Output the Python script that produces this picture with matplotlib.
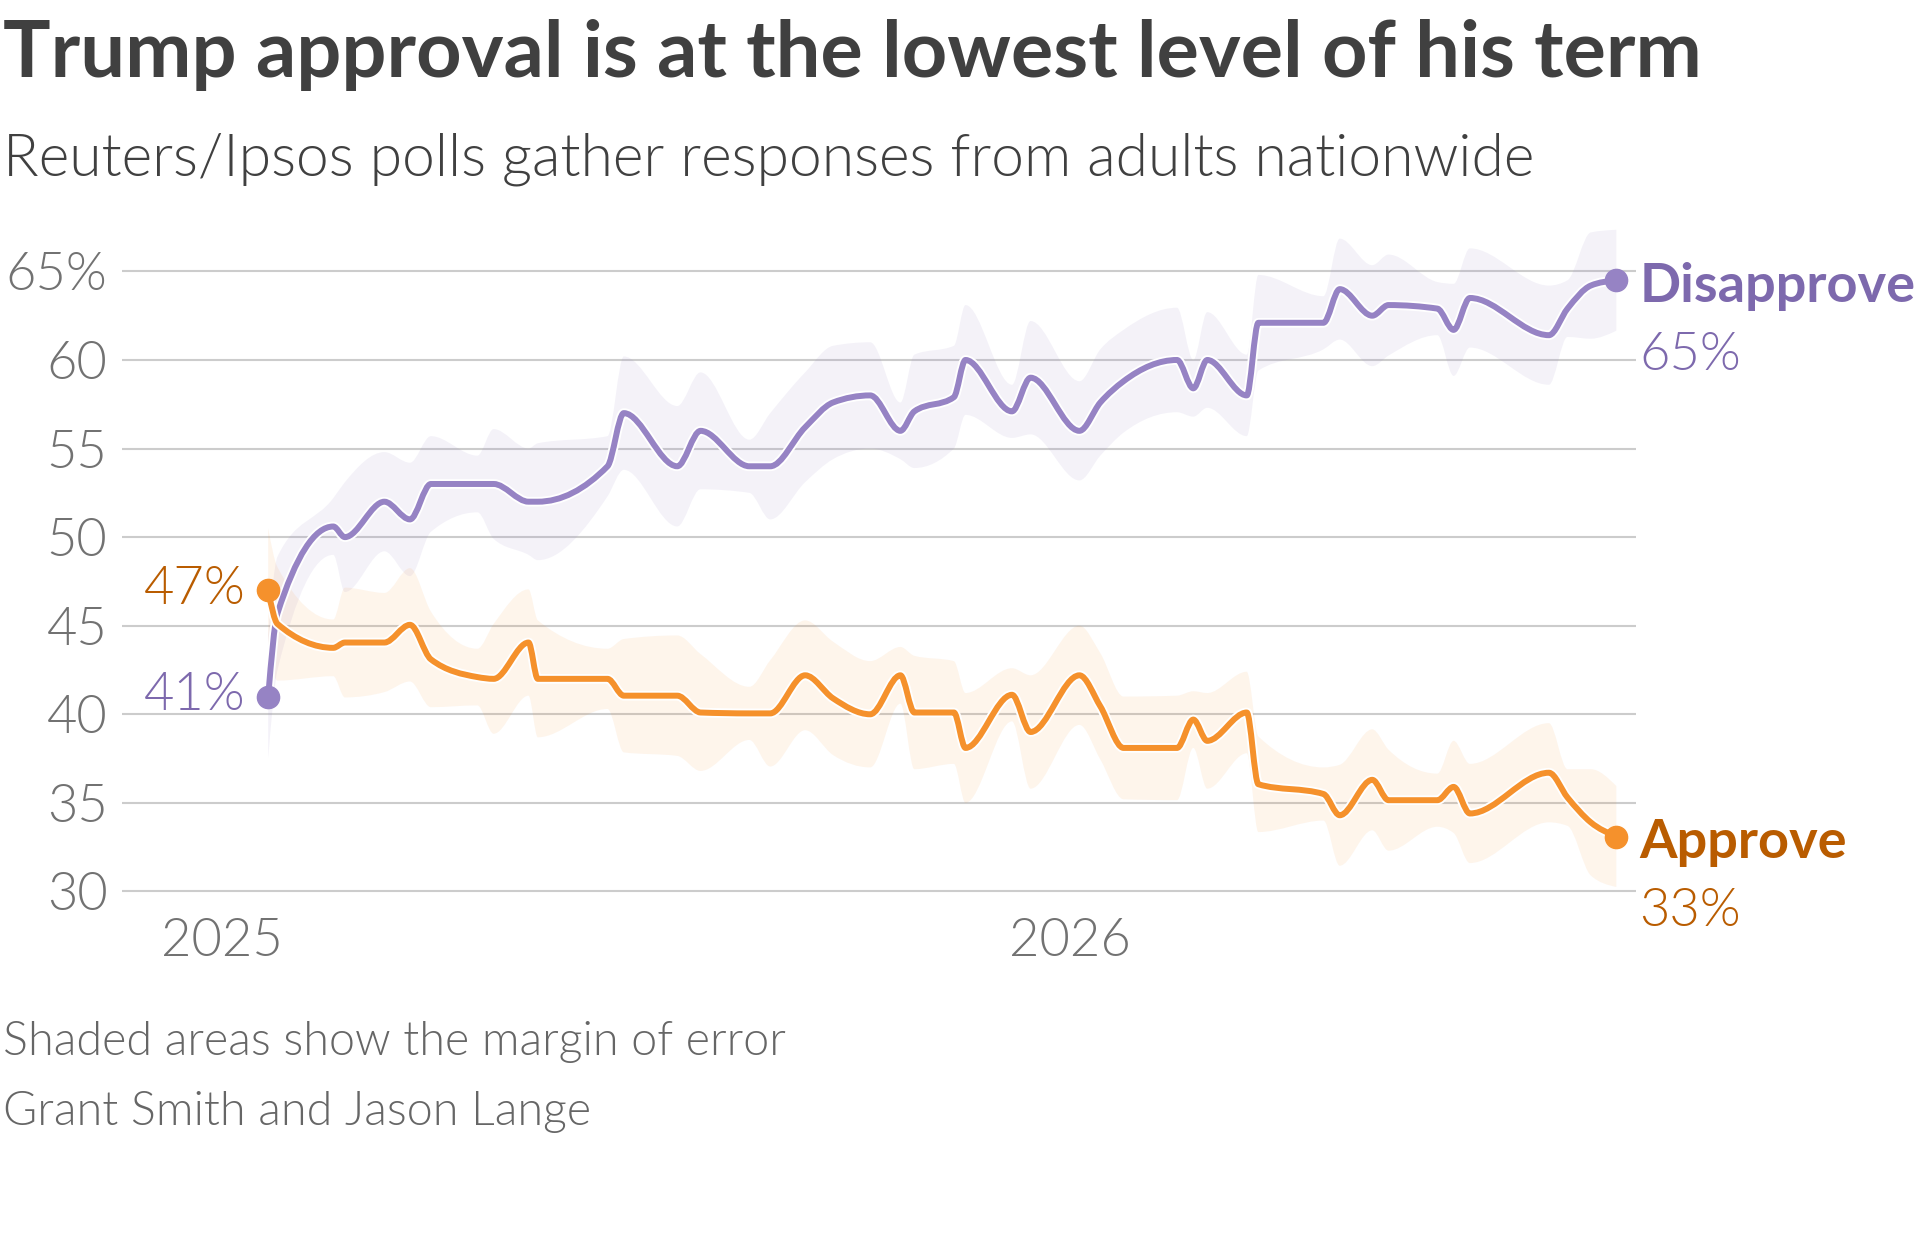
import numpy as np
import pandas as pd
import matplotlib
matplotlib.use("Agg")
import matplotlib.pyplot as plt
import matplotlib.dates as mdates
import matplotlib.patheffects as pe
from matplotlib.path import Path
from matplotlib.patches import PathPatch
from matplotlib import font_manager

# ---------------- data ----------------
dates = ["2025-01-21", "2025-01-25", "2025-02-18", "2025-02-23", "2025-03-12", "2025-03-23",
         "2025-04-01", "2025-04-21", "2025-04-28", "2025-05-13", "2025-05-17", "2025-06-16",
         "2025-06-23", "2025-07-16", "2025-07-26", "2025-08-16", "2025-08-25", "2025-09-09",
         "2025-09-21", "2025-10-07", "2025-10-20", "2025-10-26", "2025-11-12", "2025-11-17",
         "2025-12-07", "2025-12-15", "2026-01-05", "2026-01-14", "2026-01-24", "2026-02-16",
         "2026-02-23", "2026-03-01", "2026-03-18", "2026-03-23", "2026-04-20", "2026-04-27",
         "2026-05-11", "2026-05-18", "2026-06-08", "2026-06-15", "2026-06-22", "2026-07-26",
         "2026-08-03", "2026-08-13", "2026-08-24"]

disapprove = [41.0, 45.7, 50.6, 50.0, 52.0, 51.0, 53.0, 53.0, 53.0, 52.0, 52.0, 54.0,
              57.0, 54.0, 56.0, 54.0, 54.0, 56.2, 57.6, 58.0, 56.0, 57.1, 57.9, 60.0,
              57.1, 59.0, 56.0, 57.6, 58.8, 60.0, 58.4, 60.0, 58.0, 62.1, 62.1, 64.0,
              62.5, 63.1, 62.9, 61.7, 63.5, 61.4, 62.9, 64.2, 64.5]

approve = [47.0, 45.1, 43.75, 44.05, 44.05, 45.05, 43.1, 42.1, 42.0, 44.05, 42.0, 42.0,
           41.05, 41.05, 40.1, 40.05, 40.05, 42.2, 40.9, 40.0, 42.2, 40.1, 40.1, 38.1,
           41.1, 39.0, 42.2, 40.45, 38.1, 38.1, 39.7, 38.5, 40.1, 36.05, 35.5, 34.3,
           36.3, 35.15, 35.15, 35.9, 34.4, 36.7, 35.3, 33.9, 33.1]

margin = [3.5, 3.2, 1.6, 3.1, 2.8, 3.2, 2.7, 1.6, 3.1, 3.0, 3.3, 1.7,
          3.2, 3.4, 3.3, 1.5, 3.0, 3.1, 3.2, 3.0, 1.6, 3.2, 2.9, 3.1,
          1.5, 3.2, 2.8, 3.0, 2.9, 2.95, 1.6, 2.7, 2.3, 2.7, 1.5, 2.85,
          2.85, 2.85, 1.5, 2.6, 2.8, 2.8, 1.6, 3.0, 2.85]

series_names = ["Disapprove", "Approve"]
start_labels = ["41%", "47%"]
end_labels = ["65%", "33%"]

y_ticks = [30, 35, 40, 45, 50, 55, 60, 65]
y_tick_labels = ["30", "35", "40", "45", "50", "55", "60", "65%"]
x_ticks = ["2025-01-01", "2026-01-01"]
x_tick_labels = ["2025", "2026"]

title = "Trump approval is at the lowest level of his term"
subtitle = "Reuters/Ipsos polls gather responses from adults nationwide"
footer1 = "Shaded areas show the margin of error"
footer2 = "Grant Smith and Jason Lange"

# ---------------- style ----------------
PURPLE = "#9683c4"
PURPLE_TXT = "#7d69ad"
ORANGE = "#f5912c"
ORANGE_TXT = "#b95c00"
DARK = "#404040"
GRAY = "#727272"

names = {f.name for f in font_manager.fontManager.ttflist}
FONT = "Lato" if "Lato" in names else ("Roboto" if "Roboto" in names else "DejaVu Sans")
LIGHT = 300

W, H = 1920, 1239
fig = plt.figure(figsize=(W / 100, H / 100), dpi=100)
renderer = fig.canvas.get_renderer()


def fit(txt, target_px):
    w = txt.get_window_extent(renderer).width
    txt.set_fontsize(txt.get_fontsize() * target_px / w)
    return txt.get_fontsize()


def measure_size(s, weight, target_px):
    t = fig.text(0, 0, s, fontsize=20, family=FONT, fontweight=weight)
    size = fit(t, target_px)
    t.remove()
    return size


# monotone-X cubic (as in d3 curveMonotoneX), expressed as Bezier path for matplotlib
def tangents(x, y):
    n = len(x)
    h = np.diff(x)
    s = np.diff(y) / h
    t = np.zeros(n)
    for i in range(1, n - 1):
        h0, h1 = h[i - 1], h[i]
        s0, s1 = s[i - 1], s[i]
        p = (s0 * h1 + s1 * h0) / (h0 + h1)
        t[i] = (np.sign(s0) + np.sign(s1)) * min(abs(s0), abs(s1), 0.5 * abs(p))
    t[0] = (3 * s[0] - t[1]) / 2
    t[-1] = (3 * s[-1] - t[-2]) / 2
    return t


def bezier(x, y):
    t = tangents(x, y)
    verts = [(x[0], y[0])]
    codes = [Path.MOVETO]
    for i in range(len(x) - 1):
        d = (x[i + 1] - x[i]) / 3
        verts += [(x[i] + d, y[i] + d * t[i]),
                  (x[i + 1] - d, y[i + 1] - d * t[i + 1]),
                  (x[i + 1], y[i + 1])]
        codes += [Path.CURVE4] * 3
    return verts, codes


x = mdates.date2num(pd.to_datetime(dates))
dis = np.array(disapprove)
app = np.array(approve)
moe = np.array(margin)

# axes placement (pixel geometry of reference)
ax = fig.add_axes([122 / W, 1 - 918 / H, (1636 - 122) / W, (918 - 209.4) / H])
x0 = mdates.date2num(pd.Timestamp("2025-01-01"))
ppd = 848.4 / 365.0
ax.set_xlim(x0 + (122 - 221.7) / ppd, x0 + (1636 - 221.7) / ppd)
ax.set_ylim(28.5, 68.5)
for sp in ax.spines.values():
    sp.set_visible(False)
ax.set_facecolor("none")

# grid + ticks
ax.set_yticks(y_ticks)
ax.set_yticklabels(y_tick_labels)
ax.grid(axis="y", color="#cccccc", linewidth=1.5, zorder=0)
ax.set_axisbelow(True)
ax.set_xticks(mdates.date2num(pd.to_datetime(x_ticks)))
ax.set_xticklabels(x_tick_labels)

val_size = measure_size("2025", LIGHT, 122)
ax.tick_params(axis="both", length=0, labelsize=val_size, labelcolor=GRAY)
ax.tick_params(axis="y", pad=10.5)
ax.tick_params(axis="x", pad=0)
for lbl in ax.get_xticklabels() + ax.get_yticklabels():
    lbl.set_family(FONT)
    lbl.set_fontweight(LIGHT)
for lbl in ax.get_yticklabels():
    lbl.set_verticalalignment("center_baseline")


def band(vals, color, alpha):
    uv, uc = bezier(x, vals + moe)
    lv, _ = bezier(x, vals - moe)
    verts = uv + [lv[-1]] + lv[-2::-1] + [uv[0]]
    codes = uc + [Path.LINETO] + [Path.CURVE4] * (len(lv) - 1) + [Path.CLOSEPOLY]
    ax.add_patch(PathPatch(Path(verts, codes), facecolor=color, edgecolor="none",
                           alpha=alpha, zorder=1))


def line(vals, color, z):
    v, c = bezier(x, vals)
    ax.add_patch(PathPatch(Path(v, c), facecolor="none", edgecolor=color, linewidth=4.3,
                           capstyle="round", joinstyle="round", zorder=z,
                           path_effects=[pe.Stroke(linewidth=7.0, foreground="white"),
                                         pe.Normal()]))
    ax.plot([x[0], x[-1]], [vals[0], vals[-1]], "o", ms=16, color=color,
            zorder=z + 0.5, clip_on=False)


band(dis, PURPLE, 0.10)
band(app, ORANGE, 0.09)
line(dis, PURPLE, 3)
line(app, ORANGE, 4)

series = [(dis, PURPLE_TXT), (app, ORANGE_TXT)]

# start labels
for (vals, col), lab in zip(series, start_labels):
    ax.annotate(lab, xy=(x[0], vals[0]), xytext=(-16.5, -9.9),
                textcoords="offset points", ha="right", va="baseline",
                fontsize=val_size, family=FONT, fontweight=LIGHT, color=col)

# end labels
name_size = measure_size("Approve", "bold", 208)
for (vals, col), name, lab in zip(series, series_names, end_labels):
    ax.annotate(name, xy=(x[-1], vals[-1]), xytext=(16.5, -15.4),
                textcoords="offset points", ha="left", va="baseline",
                fontsize=name_size, family=FONT, fontweight="bold", color=col,
                annotation_clip=False)
    ax.annotate(lab, xy=(x[-1], vals[-1]), xytext=(16.5, -64.5),
                textcoords="offset points", ha="left", va="baseline",
                fontsize=val_size, family=FONT, fontweight=LIGHT, color=col,
                annotation_clip=False)

# titles
t1 = fig.text(0.0015, 1 - 77 / H, title, fontsize=60, fontweight="bold",
              family=FONT, color=DARK, va="baseline", ha="left")
fit(t1, 1700)
t2 = fig.text(0.0015, 1 - 175 / H, subtitle, fontsize=40, fontweight=LIGHT,
              family=FONT, color=DARK, va="baseline", ha="left")
fit(t2, 1530)
f1 = fig.text(0.0015, 1 - 1055 / H, footer1, fontsize=28, fontweight=LIGHT,
              family=FONT, color="#666666", va="baseline", ha="left")
fs = fit(f1, 780)
fig.text(0.0015, 1 - 1125 / H, footer2, fontsize=fs, fontweight=LIGHT,
         family=FONT, color="#666666", va="baseline", ha="left")

fig.savefig("out.png", dpi=100, facecolor="white")
